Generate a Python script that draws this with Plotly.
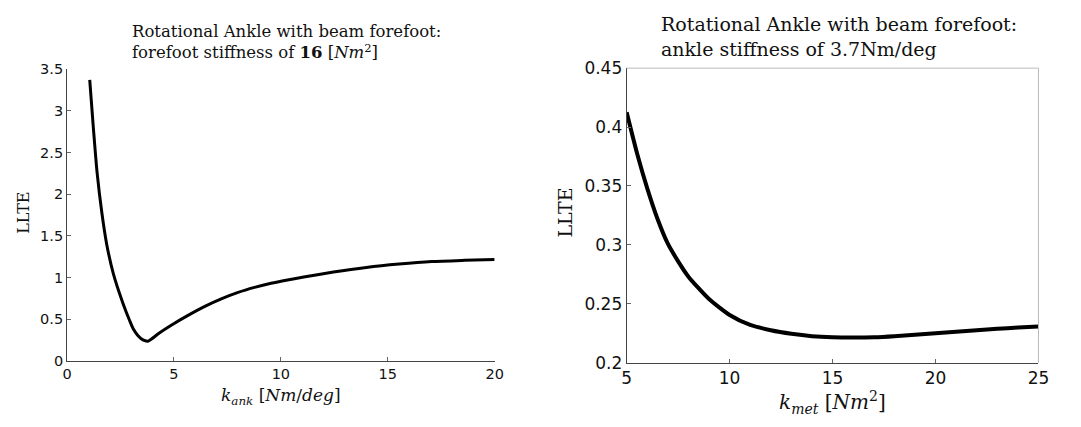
import plotly.graph_objects as go

# Left panel: LLTE vs ankle stiffness (forefoot stiffness 16 Nm^2)
k_ank = [1.06, 1.24, 1.40, 1.63, 1.86, 2.17, 2.60, 2.93, 3.10, 3.32, 3.55, 3.78, 3.95, 4.3, 4.93,
         5.70, 6.47, 7.24, 8.0, 8.77, 9.54, 10.31, 11.07, 12.46, 14.0, 15.53, 17.06, 18.6, 20.0]
llte_ank = [3.37, 2.76, 2.27, 1.77, 1.39, 1.04, 0.70, 0.48, 0.38, 0.30, 0.25, 0.235, 0.26, 0.33, 0.435,
            0.55, 0.655, 0.745, 0.82, 0.88, 0.93, 0.97, 1.005, 1.065, 1.12, 1.16, 1.19, 1.205, 1.216]

# Right panel: LLTE vs forefoot stiffness (ankle stiffness 3.7 Nm/deg)
k_met = [5.0, 5.5, 6.0, 6.5, 7.0, 7.5, 8.0, 9.0, 10.0, 11.0, 12.0, 13.0, 14.0, 15.0, 16.0, 17.0,
         18.0, 19.0, 20.0, 21.0, 22.0, 23.0, 24.0, 25.0]
llte_met = [0.4125, 0.378, 0.348, 0.322, 0.301, 0.286, 0.273, 0.254, 0.2405, 0.232, 0.2275, 0.2245,
            0.2225, 0.2216, 0.2214, 0.2216, 0.2225, 0.2238, 0.2250, 0.2262, 0.2275, 0.2288, 0.2298, 0.2307]

W, H = 1081, 427
def px(x):
    return x / W
def py(y):
    return (H - y) / H

fig = go.Figure()
fig.add_trace(go.Scatter(x=k_ank, y=llte_ank, mode="lines", line=dict(color="black", width=3, shape="spline", smoothing=0.6),
                         xaxis="x", yaxis="y", showlegend=False))
fig.add_trace(go.Scatter(x=k_met, y=llte_met, mode="lines", line=dict(color="black", width=4, shape="spline", smoothing=0.6),
                         xaxis="x2", yaxis="y2", showlegend=False))

sans = "DejaVu Sans, Arial, sans-serif"
tickfont_l = dict(family=sans, size=14.5, color="#111")
tickfont_r = dict(family=sans, size=17, color="#111")

common = dict(showgrid=False, zeroline=False, showline=True, linecolor="#444", linewidth=1,
              ticks="inside", ticklen=4, tickcolor="#666")

fig.update_layout(
    width=W, height=H, margin=dict(l=0, r=0, t=0, b=0),
    paper_bgcolor="white", plot_bgcolor="white",
    xaxis=dict(domain=[px(63), px(497)], range=[0, 20], tickvals=[0, 5, 10, 15, 20],
               tickfont=tickfont_l, anchor="y", **common),
    yaxis=dict(domain=[py(368), py(62)], range=[0, 3.5], tickvals=[0, 0.5, 1, 1.5, 2, 2.5, 3, 3.5],
               ticktext=["0", "0.5", "1", "1.5", "2", "2.5", "3", "3.5"],
               tickfont=tickfont_l, anchor="x", **common),
    xaxis2=dict(domain=[px(631), px(1049)], range=[5, 25], tickvals=[5, 10, 15, 20, 25],
                tickfont=tickfont_r, anchor="y2", **common),
    yaxis2=dict(domain=[py(370), py(61)], range=[0.2, 0.45], tickvals=[0.2, 0.25, 0.3, 0.35, 0.4, 0.45],
                ticktext=["0.2", "0.25", "0.3", "0.35", "0.4", "0.45"],
                tickfont=tickfont_r, anchor="x2", **common),
)

# light frame on right panel
fig.add_shape(type="line", xref="x2 domain", yref="y2 domain", x0=0, x1=1, y0=1, y1=1,
              line=dict(color="#bbb", width=1))
fig.add_shape(type="line", xref="x2 domain", yref="y2 domain", x0=1, x1=1, y0=0, y1=1,
              line=dict(color="#bbb", width=1))

serif = "DejaVu Serif, Liberation Serif, serif"
ann = [
    dict(x=px(127), y=py(11), xanchor="left", yanchor="top", align="left",
         text="Rotational Ankle with beam forefoot:<br>forefoot stiffness of <b>16</b> [<i>Nm</i><sup>2</sup>]",
         font=dict(family=serif, size=16.5, color="#111")),
    dict(x=px(664), y=py(1), xanchor="left", yanchor="top", align="left",
         text="Rotational Ankle with beam forefoot:<br>ankle stiffness of 3.7Nm/deg",
         font=dict(family=serif, size=19, color="#111")),
    dict(x=px(18), y=py(213), xanchor="center", yanchor="middle", textangle=-90,
         text="LLTE", font=dict(family=serif, size=16, color="#111")),
    dict(x=px(568), y=py(213), xanchor="center", yanchor="middle", textangle=-90,
         text="LLTE", font=dict(family=serif, size=19, color="#111")),
    dict(x=px(280), y=py(406), xanchor="center", yanchor="middle",
         text="<i>k</i><sub><i>ank</i></sub> [<i>Nm</i>/<i>deg</i>]", font=dict(family=serif, size=17, color="#111")),
    dict(x=px(840), y=py(412), xanchor="center", yanchor="middle",
         text="<i>k</i><sub><i>met</i></sub> [<i>Nm</i><sup>2</sup>]", font=dict(family=serif, size=20, color="#111")),
]
for a in ann:
    a.update(xref="paper", yref="paper", showarrow=False)
fig.update_layout(annotations=ann)

fig.write_html("out.html")
